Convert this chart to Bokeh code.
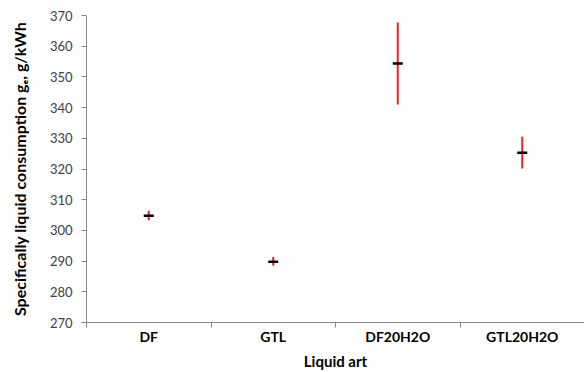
from bokeh.plotting import figure
from bokeh.models import Range1d, FixedTicker
from bokeh.embed import file_html
from bokeh.resources import INLINE

categories = ["DF", "GTL", "DF20H2O", "GTL20H2O"]
mean_values = [304.8, 289.8, 354.4, 325.3]
lower_values = [303.3, 288.5, 341.0, 320.2]
upper_values = [306.4, 291.3, 367.7, 330.5]
y_ticks = [270, 280, 290, 300, 310, 320, 330, 340, 350, 360, 370]

xs = [i + 0.5 for i in range(len(categories))]

p = figure(width=584, height=372, output_backend="svg", toolbar_location=None,
           x_range=Range1d(0, len(categories)), y_range=Range1d(270, 370),
           min_border_left=86, min_border_right=0, min_border_top=15, min_border_bottom=50)
p.outline_line_color = None
p.grid.grid_line_color = None
p.background_fill_color = "white"

p.segment(x0=xs, y0=lower_values, x1=xs, y1=upper_values, line_color="#e8222a", line_width=2)
p.scatter(x=xs, y=mean_values, marker="dash", size=10, line_color="black", line_width=2.5)

font = "Lato"
# x axis
xa = p.xaxis[0]
xa.ticker = FixedTicker(ticks=xs, minor_ticks=list(range(len(categories) + 1)))
xa.major_label_overrides = {x: c for x, c in zip(xs, categories)}
xa.major_tick_out = 0
xa.major_tick_in = 0
xa.minor_tick_out = 5
xa.minor_tick_in = 0
xa.minor_tick_line_color = "#868686"
xa.axis_line_color = "#868686"
xa.major_label_text_font = font
xa.major_label_text_font_style = "bold"
xa.major_label_text_font_size = "14px"
xa.major_label_text_color = "black"
xa.major_label_standoff = 0
xa.axis_label = "Liquid art"
xa.axis_label_text_font = font
xa.axis_label_text_font_style = "bold"
xa.axis_label_text_font_size = "15px"
xa.axis_label_text_color = "black"
xa.axis_label_standoff = 4

# y axis
ya = p.yaxis[0]
ya.ticker = FixedTicker(ticks=y_ticks)
ya.major_tick_out = 5
ya.major_tick_in = 0
ya.minor_tick_line_color = None
ya.major_tick_line_color = "#868686"
ya.axis_line_color = "#868686"
ya.major_label_text_font = font
ya.major_label_text_font_size = "13px"
ya.major_label_text_color = "#404040"
ya.major_label_standoff = 9
ya.axis_label = "Specifically liquid consumption gₑ, g/kWh"
ya.axis_label_text_font = font
ya.axis_label_text_font_style = "bold"
ya.axis_label_text_font_size = "16px"
ya.axis_label_text_color = "black"
ya.axis_label_standoff = 18

open("out.html", "w").write(file_html(p, INLINE))
